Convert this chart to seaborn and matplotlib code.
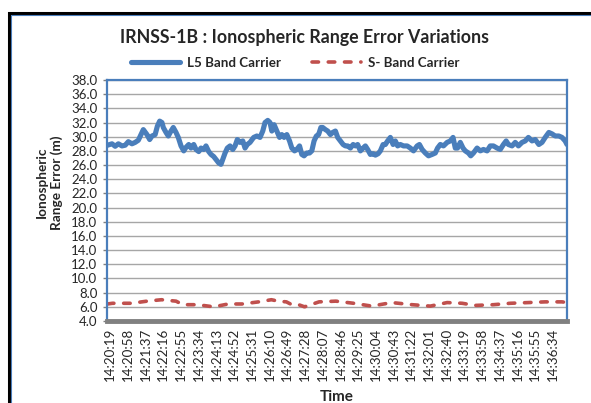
import matplotlib
matplotlib.use("Agg")
import matplotlib.pyplot as plt
import numpy as np
import pandas as pd
import seaborn as sns
from matplotlib.patches import Rectangle

# seconds after 14:20:19
l5_sec = [-6, 4, 11, 18, 26, 33, 40, 48, 55, 62, 70, 73, 81, 87, 92, 99, 104, 109, 114, 117,
          123, 128, 134, 139, 145, 150, 156, 162, 167, 173, 178, 184, 189, 195, 200, 206, 211,
          217, 222, 228, 233, 239, 244, 248, 253, 258, 264, 270, 275, 280, 286, 292, 297, 302,
          308, 316, 323, 330, 336, 341, 347, 352, 356, 361, 367, 373, 378, 383, 389, 395, 400,
          406, 411, 417, 422, 427, 433, 439, 444, 449, 454, 459, 464, 468, 474, 479, 485, 490,
          496, 501, 507, 513, 518, 523, 529, 535, 540, 545, 551, 557, 562, 567, 573, 579, 584,
          590, 595, 601, 606, 611, 617, 623, 628, 633, 639, 646, 654, 661, 668, 676, 681, 687,
          694, 701, 709, 716, 721, 727, 734, 742, 749, 755, 760, 765, 771, 777, 782, 789, 794,
          800, 808, 815, 822, 830, 837, 844, 852, 859, 866, 872, 877, 885, 892, 899, 907, 914,
          921, 929, 936, 944, 951, 958, 966, 973, 980, 988, 995, 1002, 1006]
l5_err = [28.8, 29.0, 28.65, 29.0, 28.7, 28.8, 29.3, 29.0, 29.2, 29.5, 30.6, 31.0, 30.3, 29.6,
          30.1, 30.3, 31.5, 32.2, 32.0, 31.3, 30.6, 30.1, 30.8, 31.3, 30.6, 29.9, 28.7, 28.0,
          28.5, 28.9, 28.4, 28.9, 28.2, 27.9, 28.4, 28.2, 28.7, 27.9, 27.5, 27.2, 26.8, 26.3,
          26.1, 26.8, 27.7, 28.4, 28.7, 28.2, 28.7, 29.6, 29.2, 29.4, 28.4, 28.9, 29.2, 29.9,
          30.1, 29.9, 30.8, 32.0, 32.3, 32.0, 30.8, 31.7, 30.8, 29.9, 30.3, 29.9, 30.3, 29.4,
          28.4, 28.0, 28.2, 28.7, 27.5, 27.3, 27.7, 27.7, 28.0, 29.4, 30.1, 30.3, 31.3, 31.3,
          31.0, 30.8, 30.3, 30.6, 30.8, 29.9, 29.4, 28.9, 28.7, 28.7, 28.4, 28.9, 28.7, 28.9,
          28.0, 28.4, 28.7, 28.2, 27.5, 27.6, 27.4, 27.6, 28.0, 28.9, 28.9, 29.4, 29.9, 28.9,
          29.4, 28.7, 28.9, 28.7, 28.7, 28.4, 28.0, 28.7, 28.9, 28.2, 27.7, 27.3, 27.5, 27.7,
          28.4, 28.9, 28.7, 29.2, 29.4, 29.9, 28.4, 28.4, 29.2, 28.4, 28.0, 27.7, 27.3, 27.7,
          28.4, 28.0, 28.2, 28.0, 28.7, 28.7, 28.4, 28.2, 28.9, 29.4, 28.9, 28.7, 29.2, 28.7,
          29.2, 29.4, 29.9, 29.4, 29.6, 28.9, 29.2, 29.9, 30.6, 30.4, 30.1, 30.1, 29.9, 29.4,
          28.9]

s_sec = [-6, 5, 47, 81, 113, 145, 160, 192, 228, 260, 290, 327, 355, 370, 388, 400, 415, 428,
         460, 497, 536, 576, 620, 665, 705, 742, 775, 804, 844, 881, 921, 958, 995, 1006]
s_err = [6.4, 6.5, 6.5, 6.8, 7.0, 6.8, 6.3, 6.3, 6.0, 6.4, 6.4, 6.7, 7.0, 6.8, 6.7, 6.3, 6.3,
         6.0, 6.7, 6.8, 6.5, 6.1, 6.6, 6.3, 6.1, 6.6, 6.5, 6.2, 6.3, 6.5, 6.6, 6.7, 6.7, 6.6]

tick_sec = [0, 39, 78, 117, 156, 195, 234, 273, 312, 351, 390, 429, 468, 507, 546, 585, 624,
            663, 702, 741, 780, 819, 858, 897, 936, 975]
tick_labels = ["14:20:19", "14:20:58", "14:21:37", "14:22:16", "14:22:55", "14:23:34",
               "14:24:13", "14:24:52", "14:25:31", "14:26:10", "14:26:49", "14:27:28",
               "14:28:07", "14:28:46", "14:29:25", "14:30:04", "14:30:43", "14:31:22",
               "14:32:01", "14:32:40", "14:33:19", "14:33:58", "14:34:37", "14:35:16",
               "14:35:55", "14:36:34"]

l5 = pd.DataFrame({"sec": l5_sec, "err": l5_err})
sb = pd.DataFrame({"sec": s_sec, "err": s_err})

sns.set_style("white")
plt.rcParams["font.family"] = ["Lato", "DejaVu Sans"]

blue = "#4A7EBB"
red = "#C0504D"

fig = plt.figure(figsize=(5.91, 4.03), dpi=100)
ax = fig.add_axes([107 / 591, 1 - 321 / 403, 460 / 591, 241 / 403])

sns.lineplot(data=l5, x="sec", y="err", ax=ax, color=blue, lw=3.7,
             label="L5 Band Carrier", solid_capstyle="round")
sns.lineplot(data=sb, x="sec", y="err", ax=ax, color=red, lw=2.6,
             label="S- Band Carrier", linestyle=(0, (1.8, 2.7)), dash_capstyle="round")

ax.set_xlim(-7, 1006)
ax.set_ylim(4, 38)
ax.set_yticks(np.arange(4, 38.1, 2))
ax.set_yticklabels([f"{v:.1f}" for v in np.arange(4, 38.1, 2)])
ax.set_xticks(tick_sec)
ax.set_xticklabels(tick_labels, rotation=90)
ax.yaxis.grid(True, color="#A6A6A6", lw=1.0)
ax.set_axisbelow(True)

ax.tick_params(axis="y", length=3, width=1, color="#808080", labelsize=9.5, pad=4,
               left=True)
ax.tick_params(axis="x", length=0, labelsize=9.6, pad=5)

for side in ["left", "right", "top"]:
    ax.spines[side].set_color(blue)
    ax.spines[side].set_linewidth(1.6)
ax.spines["bottom"].set_color("#808080")
ax.spines["bottom"].set_linewidth(3.5)

ax.set_xlabel("")
ax.set_ylabel("Ionospheric\nRange Error (m)", fontweight="bold", fontsize=9.8,
              linespacing=1.3)
ax.yaxis.set_label_coords(-0.095, 0.575)

fig.text(337 / 591, 1 - 397 / 403, "Time", ha="center", va="center",
         fontweight="bold", fontsize=11)
fig.text(305 / 591, 1 - 38 / 403, "IRNSS-1B : Ionospheric Range Error Variations",
         ha="center", va="center", fontweight="bold", fontsize=12.8)

ax.legend(loc="center", bbox_to_anchor=(295 / 591, 1 - 63 / 403),
          bbox_transform=fig.transFigure, ncol=2, frameon=False,
          prop={"weight": "bold", "size": 9.6}, handlelength=3.7,
          handletextpad=0.5, columnspacing=2.3)

# chart frame
fig.patches.append(Rectangle((8.5 / 591, -0.1), 1.2, 1.1 - 13 / 403, transform=fig.transFigure,
                             fill=False, edgecolor="black", lw=2.2))
fig.patches.append(Rectangle((10.8 / 591, -0.1), 1.2, 1.1 - 15.3 / 403,
                             transform=fig.transFigure, fill=False, edgecolor=blue, lw=0.8))

fig.savefig("out.png", dpi=100, facecolor="white")
